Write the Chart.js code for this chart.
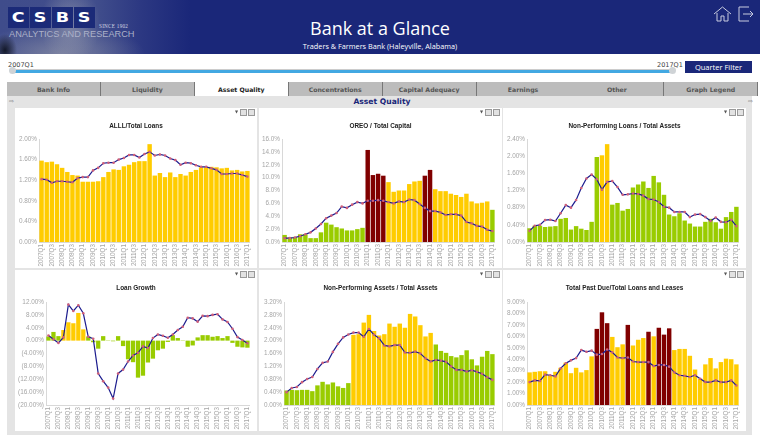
<!DOCTYPE html>
<html>
<head>
<meta charset="utf-8">
<title>Bank at a Glance</title>
<script src="https://cdn.jsdelivr.net/npm/chart.js@4"></script>
<style>
html, body { margin: 0; padding: 0; background: #fff; width: 760px; height: 435px; overflow: hidden; font-family: "Liberation Sans", sans-serif; }
.abs, canvas { position: absolute; }
#header { left: 0; top: 0; width: 760px; height: 54px; background: #1a2779; overflow: hidden; }
#photo { left: 0; top: 0; width: 190px; height: 54px;
  background:
    radial-gradient(ellipse 12px 16px at 5px 50px, rgba(15,20,35,.95), rgba(15,20,35,0) 100%),
    radial-gradient(ellipse 30px 40px at 70px 24px, rgba(150,155,175,.7), rgba(150,155,175,0) 100%),
    radial-gradient(ellipse 85px 30px at 60px 54px, rgba(135,140,165,.8), rgba(135,140,165,0) 100%),
    linear-gradient(90deg, #3f4c8b 0%, #414e8c 50%, #2c3882 74%, #1a2779 100%); }
.logo { top: 7px; width: 21px; height: 21px; background: #1b2a78; color: #fff; font: bold 14px/21px "DejaVu Sans", sans-serif; text-align: center; }
.logo span { display: inline-block; transform: scaleX(1.25); }
#since { left: 99px; top: 23px; font: 5.2px "Liberation Serif", serif; color: #d4d6e2; letter-spacing: .25px; }
#analytics { left: 9px; top: 29px; font: 9.2px "Liberation Sans", sans-serif; color: #acb1c8; white-space: nowrap; }
#title { left: 0; top: 16px; width: 760px; text-align: center; color: #fff; font: 18px "Open Sans", sans-serif; }
#subtitle { left: 0; top: 41px; width: 760px; text-align: center; color: #fff; font: 7.3px "Open Sans", sans-serif; }
#track1 { left: 12px; top: 69px; width: 662px; height: 1px; background: #ccc; }
#track2 { left: 13px; top: 70px; width: 659px; height: 3px; background: #42a8e2; }
.knob { top: 67px; width: 7px; height: 7px; border-radius: 50%; background: #cfd3d6; }
.qlabel { top: 61px; font: 6.5px "DejaVu Sans", sans-serif; color: #444; }
#filter { left: 685px; top: 61px; width: 67px; height: 12px; background: #1a2779; color: #fff; font: 7.5px/12px "Open Sans", sans-serif; text-align: center; }
.tab { top: 82px; height: 14px; background: #bcbcbc; border-right: 1px solid #777; box-sizing: border-box; color: #555; font: bold 6.2px/15px "DejaVu Sans", sans-serif; text-align: center; }
.tab.on { background: #fff; color: #222; }
#frame { left: 7px; top: 96px; width: 745px; height: 339px; background: #e4e4e4; }
#section { left: 17px; top: 96px; width: 730px; height: 10px; text-align: center; color: #1a2779; font: bold 7.6px/11px "DejaVu Sans", sans-serif; }
.arrow { top: 97px; font: 6px/8px "DejaVu Sans", sans-serif; color: #666; }
.panel { background: #fff; }
.pbtn { width: 5px; height: 5px; background: #e2e2e2; border: 1px solid #999; }
.pdrop { font: 4px/6px "DejaVu Sans", sans-serif; color: #555; }
</style>
</head>
<body>
<div id="header" class="abs">
  <div id="photo" class="abs"></div>
  <div class="abs logo" style="left:8px"><span>C</span></div>
  <div class="abs logo" style="left:30px"><span>S</span></div>
  <div class="abs logo" style="left:52px"><span>B</span></div>
  <div class="abs logo" style="left:74px"><span>S</span></div>
  <div id="since" class="abs">SINCE 1902</div>
  <div id="analytics" class="abs">ANALYTICS AND RESEARCH</div>
  <div id="title" class="abs">Bank at a Glance</div>
  <div id="subtitle" class="abs">Traders &amp; Farmers Bank (Haleyville, Alabama)</div>
  <svg class="abs" style="left:712px;top:5px" width="42" height="18" fill="none" stroke="#c8cce0" stroke-width="1">
    <path d="M2 9 L10.5 2 L19 9 M5 8 V16 H9 V11 H12 V16 H16 V8"/>
    <path d="M37 2 H27 V16 H37 M31 9 H41 M38 6 L41 9 L38 12"/>
  </svg>
</div>

<div id="track1" class="abs"></div>
<div id="track2" class="abs"></div>
<div class="abs knob" style="left:9px"></div>
<div class="abs knob" style="left:669px"></div>
<div class="abs qlabel" style="left:8px">2007Q1</div>
<div class="abs qlabel" style="left:657px">2017Q1</div>
<div id="filter" class="abs">Quarter Filter</div>

<div id="frame" class="abs"></div>
<div id="tabs"></div>
<div id="section" class="abs">Asset Quality</div>
<div class="abs arrow" style="left:9px">&#8680;</div>
<div class="abs arrow" style="left:748px">&#8680;</div>
<div id="panels"></div>

<script>
// 2007Q1 .. 2017Q1
const quarters = ['2007Q1','2007Q2','2007Q3','2007Q4','2008Q1','2008Q2','2008Q3','2008Q4','2009Q1','2009Q2','2009Q3','2009Q4','2010Q1','2010Q2','2010Q3','2010Q4','2011Q1','2011Q2','2011Q3','2011Q4','2012Q1','2012Q2','2012Q3','2012Q4','2013Q1','2013Q2','2013Q3','2013Q4','2014Q1','2014Q2','2014Q3','2014Q4','2015Q1','2015Q2','2015Q3','2015Q4','2016Q1','2016Q2','2016Q3','2016Q4','2017Q1'];
const tabNames = ['Bank Info','Liquidity','Asset Quality','Concentrations','Capital Adequacy','Earnings','Other','Graph Legend'];

const allBank = [1.58,1.55,1.56,1.51,1.44,1.36,1.30,1.29,1.17,1.17,1.17,1.18,1.26,1.36,1.41,1.40,1.47,1.50,1.55,1.57,1.57,1.90,1.29,1.34,1.26,1.35,1.26,1.32,1.29,1.36,1.40,1.45,1.45,1.46,1.45,1.43,1.44,1.39,1.40,1.37,1.38];
const allPeer = [1.22,1.21,1.15,1.18,1.18,1.17,1.16,1.24,1.26,1.26,1.39,1.44,1.53,1.54,1.54,1.60,1.63,1.69,1.69,1.64,1.71,1.75,1.68,1.70,1.68,1.62,1.59,1.50,1.54,1.53,1.49,1.46,1.46,1.43,1.40,1.32,1.32,1.33,1.33,1.30,1.27];
const allStatus = [1,1,1,1,1,1,1,1,1,1,1,1,1,1,1,1,1,1,1,1,1,1,1,1,1,1,1,1,1,1,1,1,1,1,1,1,1,1,1,1,1];

const oreoBank = [1.1,0.7,0.8,1.2,1.2,0.6,0.6,1.5,3.0,2.7,2.3,2.1,1.8,1.8,2.0,2.2,14.3,10.4,10.6,10.3,9.3,7.8,8.0,8.0,9.0,9.4,9.5,10.3,11.2,8.2,7.9,7.9,7.5,7.3,7.0,7.5,6.3,6.0,6.1,6.3,5.0];
const oreoPeer = [0.6,0.6,0.7,0.9,1.2,1.5,2.1,2.8,3.7,4.1,4.5,5.5,5.3,5.8,6.2,6.0,6.4,6.4,6.5,6.4,6.2,6.0,6.3,6.2,6.6,6.5,5.9,5.3,4.8,4.8,4.6,4.2,4.3,4.3,4.1,3.1,2.9,2.5,2.4,1.9,1.7];
const oreoStatus = [0,0,0,0,0,0,0,0,0,0,0,0,0,0,0,0,2,2,2,2,1,1,1,1,1,1,1,2,2,1,1,1,1,1,1,1,1,1,1,1,0];

const nplBank = [0.32,0.38,0.38,0.35,0.36,0.37,0.54,0.56,0.29,0.37,0.31,0.28,0.47,1.98,2.02,2.28,0.87,0.91,0.73,0.77,1.27,1.34,1.41,1.26,1.54,1.39,1.10,0.64,0.60,0.67,0.50,0.43,0.36,0.36,0.47,0.54,0.46,0.31,0.58,0.70,0.82];
const nplPeer = [0.26,0.38,0.40,0.51,0.52,0.49,0.67,0.86,0.80,0.98,1.26,1.48,1.57,1.46,1.22,1.40,1.42,1.28,1.10,1.11,1.13,1.12,1.08,1.00,0.99,0.93,0.82,0.80,0.70,0.70,0.70,0.58,0.64,0.65,0.58,0.49,0.57,0.47,0.46,0.52,0.37];
const nplStatus = [0,0,0,0,0,0,0,0,0,0,0,0,0,0,1,1,0,0,0,0,0,0,0,0,0,0,0,0,0,0,0,0,0,0,0,0,0,0,0,0,0];

const growthBank = [1.3,2.7,1.4,3.3,5.7,5.4,8.6,3.5,1.3,-0.5,-2.5,1.4,0.1,-0.2,1.4,-1.7,-5.8,-6.7,-11.5,-10.9,-6.8,-5.6,-3.0,-2.5,-0.4,1.7,0.8,0.1,-1.9,-1.5,1.0,1.7,1.7,1.2,1.4,0.8,1.4,-0.7,-1.9,-2.1,-2.2];
const growthPeer = [1.6,0.4,-0.7,1.0,11.2,9.2,11.0,8.5,1.2,0.6,-10.2,-12.6,-14.6,-18.0,-10.2,-9.0,-6.5,-4.6,-3.8,-1.8,-2.3,0.8,1.9,1.5,0.9,1.9,3.3,4.3,7.1,6.9,5.9,7.7,7.6,8.0,8.2,6.6,5.8,3.7,1.1,0.2,-0.8];
const growthStatus = [0,0,0,1,1,1,1,1,0,0,0,0,0,0,0,0,0,0,0,0,0,0,0,0,0,0,0,0,0,0,0,0,0,0,0,0,0,0,0,0,0];

const npaBank = [0.45,0.47,0.46,0.47,0.47,0.43,0.61,0.72,0.64,0.70,0.58,0.53,0.68,2.18,2.20,2.56,2.80,2.30,2.16,2.20,2.53,2.43,2.53,2.40,2.83,2.75,2.48,2.13,2.24,1.88,1.68,1.62,1.52,1.48,1.55,1.70,1.42,1.23,1.50,1.68,1.58];
const npaPeer = [0.40,0.53,0.56,0.71,0.81,0.87,1.12,1.31,1.35,1.65,1.90,2.10,2.19,2.25,2.25,2.12,2.36,2.18,2.07,1.85,1.82,1.86,1.86,1.63,1.62,1.66,1.60,1.45,1.35,1.40,1.38,1.34,1.20,1.09,1.09,1.04,1.08,1.03,0.97,0.86,0.78];
const npaStatus = [0,0,0,0,0,0,0,0,0,0,0,0,0,1,1,1,1,1,1,1,1,1,1,1,1,1,1,1,1,0,0,0,0,0,0,0,0,0,0,0,0];

const pastDueBank = [2.85,2.90,2.95,2.95,2.60,2.90,3.25,3.70,2.78,3.25,2.85,3.05,4.25,6.65,8.10,7.15,5.95,5.05,5.30,7.00,5.20,5.70,5.85,6.40,6.00,6.75,6.15,6.70,4.80,4.90,4.90,4.30,3.10,2.30,3.55,4.10,3.20,3.75,4.05,4.00,3.55];
const pastDuePeer = [2.00,2.15,2.10,2.65,2.60,2.50,3.20,3.65,3.90,4.10,4.80,4.65,4.75,4.40,4.45,4.85,4.60,4.15,4.10,4.15,3.80,3.75,3.75,3.75,3.40,3.50,3.50,3.35,2.85,2.60,2.55,2.45,2.60,2.30,2.00,2.00,2.15,2.00,2.00,2.15,1.70];
const pastDueStatus = [1,1,1,1,1,1,1,1,1,1,1,1,1,2,2,2,1,1,1,2,1,1,1,2,1,2,2,2,1,1,1,1,1,1,1,1,1,1,1,1,1];

const statusColors = ['#99cc00', '#ffcc00', '#800000'];

// panel box plus the plot area inside it, page pixels
const charts = [
  { id: 'c1', title: 'ALLL/Total Loans', bank: allBank, peer: allPeer, status: allStatus, min: 0, max: 2, step: 0.4, dec: 2, box: [15, 108, 242, 160], plot: [39, 139, 255, 242] },
  { id: 'c2', title: 'OREO / Total Capital', bank: oreoBank, peer: oreoPeer, status: oreoStatus, min: 0, max: 16, step: 2, dec: 1, box: [259, 108, 243, 160], plot: [282, 139, 498, 242] },
  { id: 'c3', title: 'Non-Performing Loans / Total Assets', bank: nplBank, peer: nplPeer, status: nplStatus, min: 0, max: 2.4, step: 0.4, dec: 2, box: [503, 108, 243, 160], plot: [527, 139, 743, 242] },
  { id: 'c4', title: 'Loan Growth', bank: growthBank, peer: growthPeer, status: growthStatus, min: -20, max: 12, step: 4, dec: 2, box: [15, 270, 242, 161], plot: [46, 302, 255, 405] },
  { id: 'c5', title: 'Non-Performing Assets / Total Assets', bank: npaBank, peer: npaPeer, status: npaStatus, min: 0, max: 3.2, step: 0.4, dec: 2, box: [259, 270, 243, 161], plot: [284, 302, 498, 405] },
  { id: 'c6', title: 'Total Past Due/Total Loans and Leases', bank: pastDueBank, peer: pastDuePeer, status: pastDueStatus, min: 0, max: 9, step: 1, dec: 2, box: [503, 270, 243, 161], plot: [527, 302, 743, 405] }
];

// tabs
const tabsEl = document.getElementById('tabs');
tabNames.forEach((name, i) => {
  const d = document.createElement('div');
  d.className = 'abs tab' + (name === 'Asset Quality' ? ' on' : '');
  d.style.left = (7 + i * 93.9) + 'px';
  d.style.width = '94px';
  d.textContent = name;
  tabsEl.appendChild(d);
});

function pct(v, dec) {
  const s = Math.abs(v).toFixed(dec) + '%';
  return v < 0 ? '(' + s + ')' : s;
}

const panelsEl = document.getElementById('panels');
charts.forEach(c => {
  const [bx, by, bw, bh] = c.box;
  const [pl, pt, pr, pb] = c.plot;

  const panel = document.createElement('div');
  panel.className = 'abs panel';
  panel.style.cssText = `left:${bx}px;top:${by}px;width:${bw}px;height:${bh}px`;
  panel.innerHTML = `<canvas id="${c.id}" width="${bw}" height="${bh}" style="left:0;top:0"></canvas>
    <div class="abs pdrop" style="left:${bw - 22}px;top:1px">&#9660;</div>
    <div class="abs pbtn" style="left:${bw - 17}px;top:1px"></div>
    <div class="abs pbtn" style="left:${bw - 9}px;top:1px"></div>`;
  panelsEl.appendChild(panel);

  new Chart(document.getElementById(c.id), {
    data: {
      labels: quarters,
      datasets: [
        {
          type: 'line',
          data: c.peer,
          order: 0,
          borderColor: '#1c1c8e',
          borderWidth: 1.2,
          tension: 0,
          pointRadius: 1.3,
          pointBorderWidth: 0,
          pointBackgroundColor: '#d0607a'
        },
        {
          type: 'bar',
          data: c.bank,
          order: 1,
          backgroundColor: c.status.map(s => statusColors[s]),
          barPercentage: 0.86,
          categoryPercentage: 1
        }
      ]
    },
    options: {
      responsive: false,
      animation: false,
      devicePixelRatio: 1,
      layout: { padding: { top: pt - by, right: bx + bw - pr, bottom: 0, left: 0 } },
      plugins: {
        legend: { display: false },
        tooltip: { enabled: false },
        title: { display: false }
      },
      scales: {
        x: {
          grid: { display: false, drawTicks: false },
          border: { color: '#d8d8d8' },
          afterFit(s) { s.height = by + bh - pb; },
          ticks: {
            color: '#a6a6a6',
            font: { family: 'Liberation Sans', size: 6.3 },
            padding: 2,
            autoSkip: false,
            maxRotation: 90,
            minRotation: 90,
            callback(v, i) { return i % 2 === 0 ? quarters[i] : ''; }
          }
        },
        y: {
          min: c.min,
          max: c.max,
          grid: { display: false, drawTicks: false },
          border: { color: '#d8d8d8' },
          afterFit(s) { s.width = pl - bx; },
          ticks: {
            stepSize: c.step,
            autoSkip: false,
            color: '#a6a6a6',
            font: { family: 'Liberation Sans', size: 6.4 },
            padding: 2,
            callback: v => pct(v, c.dec)
          }
        }
      }
    },
    plugins: [{
      id: 'panelTitle',
      afterDraw(chart) {
        const g = chart.ctx;
        g.save();
        g.font = 'bold 6.4px "Liberation Sans"';
        g.fillStyle = '#222';
        g.textAlign = 'center';
        g.textBaseline = 'middle';
        g.fillText(c.title, bw / 2, 18);
        g.restore();
      }
    }]
  });
});
</script>
</body>
</html>
